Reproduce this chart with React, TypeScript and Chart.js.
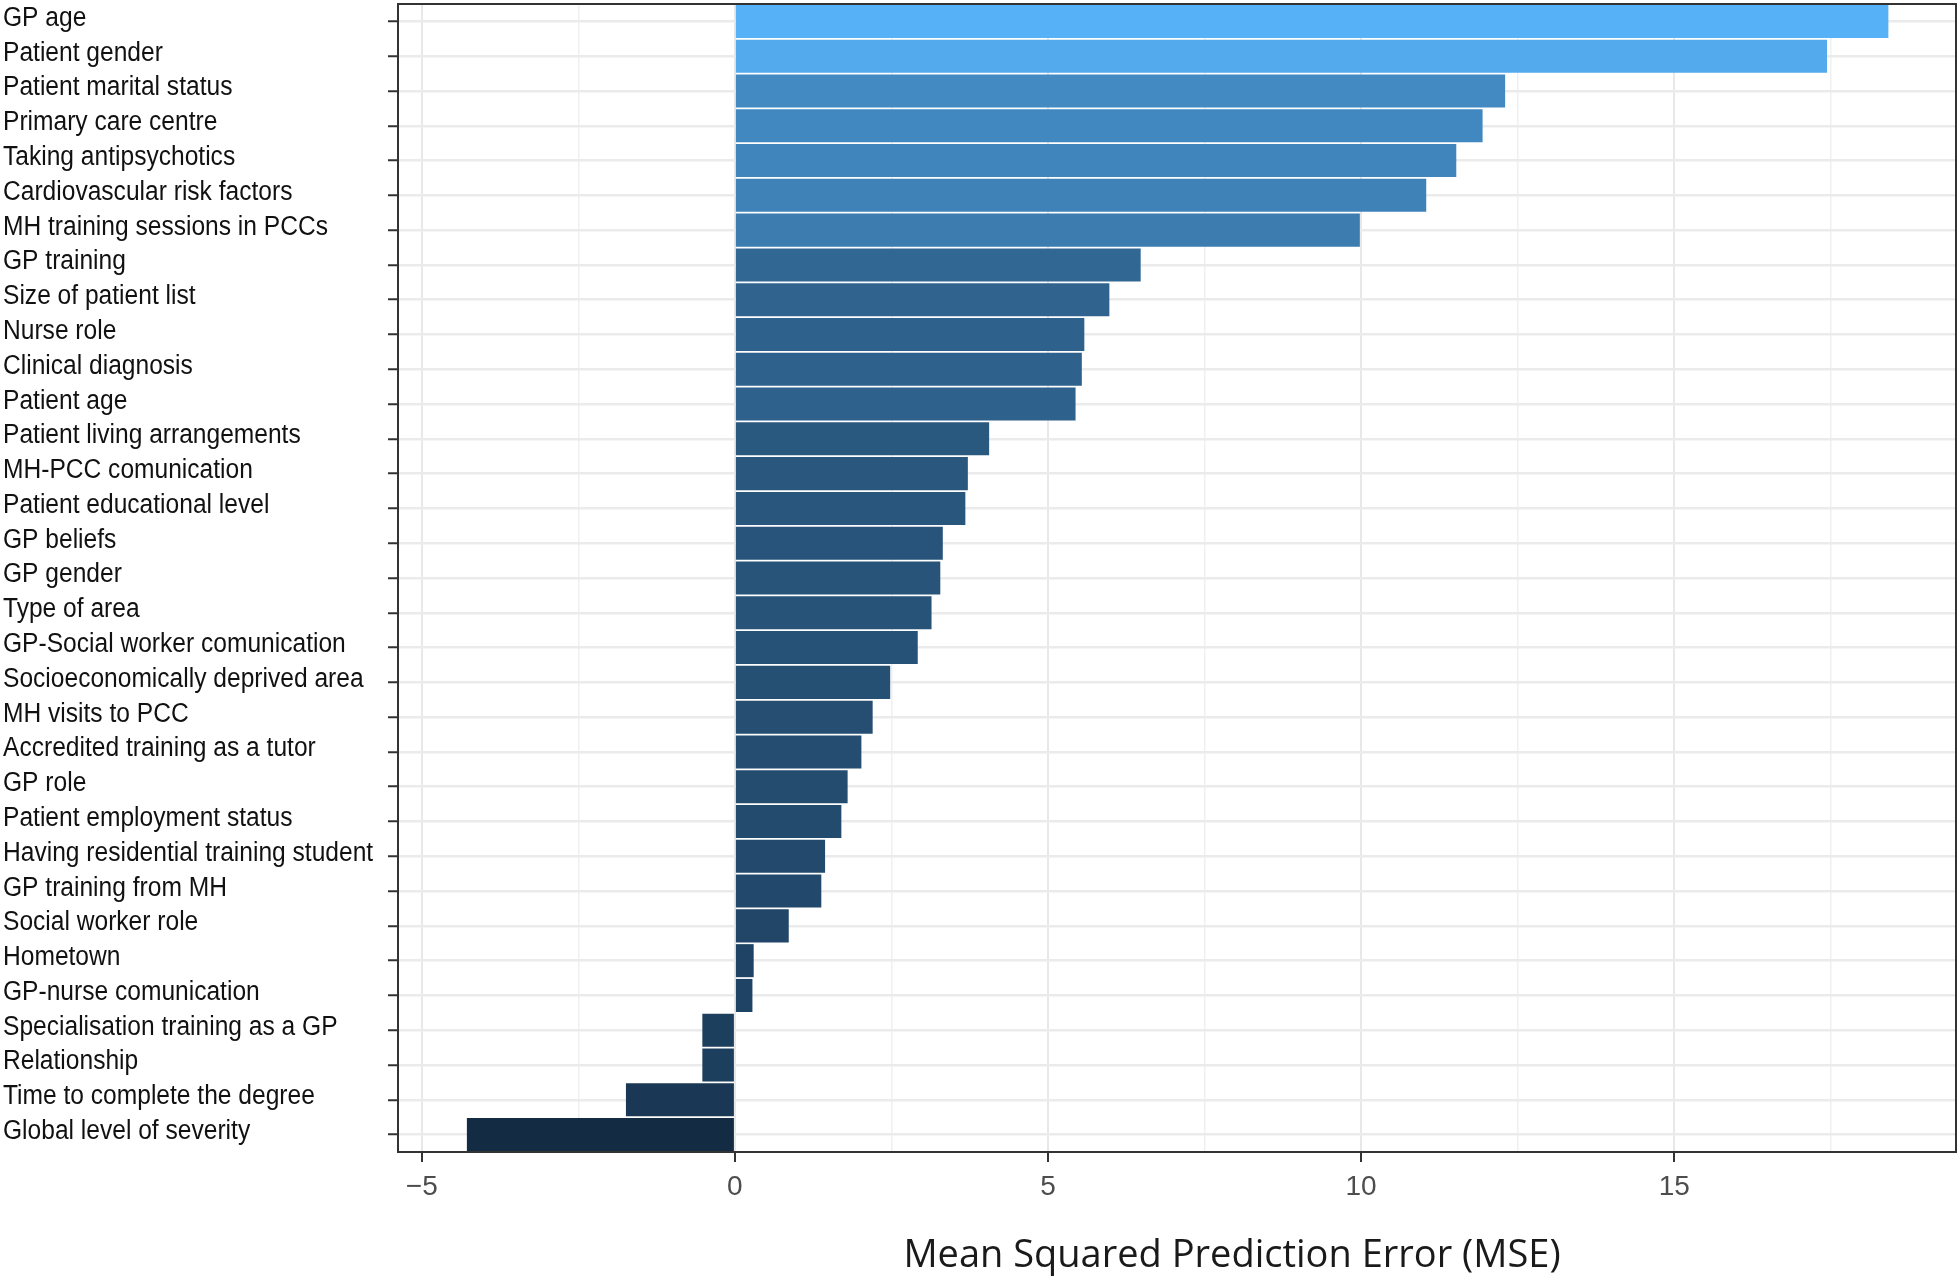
import React, { useEffect, useRef } from "react";
import { Chart, registerables } from "chart.js";

Chart.register(...registerables);

const CATEGORIES: string[] = [
  "GP age",
  "Patient gender",
  "Patient marital status",
  "Primary care centre",
  "Taking antipsychotics",
  "Cardiovascular risk factors",
  "MH training sessions in PCCs",
  "GP training",
  "Size of patient list",
  "Nurse role",
  "Clinical diagnosis",
  "Patient age",
  "Patient living arrangements",
  "MH-PCC comunication",
  "Patient educational level",
  "GP beliefs",
  "GP gender",
  "Type of area",
  "GP-Social worker comunication",
  "Socioeconomically deprived area",
  "MH visits to PCC",
  "Accredited training as a tutor",
  "GP role",
  "Patient employment status",
  "Having residential training student",
  "GP training from MH",
  "Social worker role",
  "Hometown",
  "GP-nurse comunication",
  "Specialisation training as a GP",
  "Relationship",
  "Time to complete the degree",
  "Global level of severity",
];

const MSE_VALUES: number[] = [
  18.42, 17.44, 12.3, 11.94, 11.52, 11.04, 9.98, 6.48, 5.98, 5.58, 5.54, 5.44,
  4.06, 3.72, 3.68, 3.32, 3.28, 3.14, 2.92, 2.48, 2.2, 2.02, 1.8, 1.7, 1.44,
  1.38, 0.86, 0.3, 0.28, -0.52, -0.52, -1.74, -4.28,
];

const X_TICKS: number[] = [-5, -2.5, 0, 2.5, 5, 7.5, 10, 12.5, 15, 17.5];
const X_MIN = -5.38;
const X_MAX = 19.5;
const X_TITLE = "Mean Squared Prediction Error (MSE)";

const LOW_COLOR = "#132B43";
const HIGH_COLOR = "#56B1F7";

// --- Lab colour interpolation (like ggplot's default continuous gradient) ---
function hexToRgb(h: string): number[] {
  const n = parseInt(h.slice(1), 16);
  return [(n >> 16) & 255, (n >> 8) & 255, n & 255];
}
function srgbToLin(c: number) {
  c /= 255;
  return c <= 0.04045 ? c / 12.92 : Math.pow((c + 0.055) / 1.055, 2.4);
}
function linToSrgb(c: number) {
  const v = c <= 0.0031308 ? 12.92 * c : 1.055 * Math.pow(c, 1 / 2.4) - 0.055;
  return Math.max(0, Math.min(255, Math.round(v * 255)));
}
const WX = 0.95047, WY = 1.0, WZ = 1.08883;
function rgbToLab(rgb: number[]): number[] {
  const [r, g, b] = rgb.map(srgbToLin);
  const x = (r * 0.4124 + g * 0.3576 + b * 0.1805) / WX;
  const y = (r * 0.2126 + g * 0.7152 + b * 0.0722) / WY;
  const z = (r * 0.0193 + g * 0.1192 + b * 0.9505) / WZ;
  const f = (t: number) => (t > 0.008856 ? Math.cbrt(t) : 7.787 * t + 16 / 116);
  const fx = f(x), fy = f(y), fz = f(z);
  return [116 * fy - 16, 500 * (fx - fy), 200 * (fy - fz)];
}
function labToRgb(lab: number[]): number[] {
  const [L, A, B] = lab;
  const fy = (L + 16) / 116;
  const fx = fy + A / 500;
  const fz = fy - B / 200;
  const finv = (t: number) => (t * t * t > 0.008856 ? t * t * t : (t - 16 / 116) / 7.787);
  const x = finv(fx) * WX, y = finv(fy) * WY, z = finv(fz) * WZ;
  const r = x * 3.2406 + y * -1.5372 + z * -0.4986;
  const g = x * -0.9689 + y * 1.8758 + z * 0.0415;
  const b = x * 0.0557 + y * -0.204 + z * 1.057;
  return [linToSrgb(r), linToSrgb(g), linToSrgb(b)];
}
const LAB_LOW = rgbToLab(hexToRgb(LOW_COLOR));
const LAB_HIGH = rgbToLab(hexToRgb(HIGH_COLOR));
function gradientColor(v: number, lo: number, hi: number): string {
  const t = (v - lo) / (hi - lo);
  const lab = LAB_LOW.map((c, i) => c + (LAB_HIGH[i] - c) * t);
  const [r, g, b] = labToRgb(lab);
  return `rgb(${r},${g},${b})`;
}

const LABEL_FONT = "'Liberation Sans', Arial, sans-serif";
const LABEL_CONDENSE = 0.91;

// Draw the category labels slightly condensed, like the narrow face in the original.
const condensePlugin = {
  id: "condenseLabels",
  beforeDraw(chart: any) {
    const sc = chart.scales.y;
    if (!sc || sc.__condensed) return;
    const orig = sc.drawLabels.bind(sc);
    sc._computeLabelArea = () => undefined;
    sc.drawLabels = (chartArea: any) => {
      const ctx = chart.ctx;
      ctx.save();
      ctx.translate(sc.left, 0);
      ctx.scale(LABEL_CONDENSE, 1);
      ctx.translate(-sc.left, 0);
      orig(chartArea);
      ctx.restore();
    };
    sc.__condensed = true;
  },
};

const framePlugin = {
  id: "frame",
  afterDatasetsDraw(chart: any) {
    const { ctx, chartArea: a } = chart;
    ctx.save();
    ctx.strokeStyle = "#333333";
    ctx.lineWidth = 2;
    ctx.strokeRect(a.left, a.top, a.right - a.left, a.bottom - a.top);
    ctx.restore();
  },
};

const titlePlugin = {
  id: "xTitle",
  afterDraw(chart: any) {
    const { ctx, chartArea: a } = chart;
    ctx.save();
    ctx.fillStyle = "#1a1a1a";
    ctx.font = "38px 'Open Sans', sans-serif";
    ctx.textAlign = "center";
    ctx.textBaseline = "middle";
    ctx.fillText(X_TITLE, (a.left + a.right) / 2 + 55, chart.height - 26);
    ctx.restore();
  },
};

export default function App() {
  const canvasRef = useRef<HTMLCanvasElement | null>(null);

  useEffect(() => {
    if (!canvasRef.current) return;
    const lo = Math.min(...MSE_VALUES);
    const hi = Math.max(...MSE_VALUES);
    const colors = MSE_VALUES.map((v) => gradientColor(v, lo, hi));
    const chart = new Chart(canvasRef.current, {
      type: "bar",
      data: {
        labels: CATEGORIES,
        datasets: [
          {
            data: MSE_VALUES,
            backgroundColor: colors,
            borderWidth: 0,
            barPercentage: 0.95,
            categoryPercentage: 1,
          },
        ],
      },
      options: {
        indexAxis: "y",
        animation: false,
        responsive: true,
        maintainAspectRatio: false,
        layout: { autoPadding: false, padding: { left: 3, right: 4, top: 4, bottom: 0 } },
        plugins: {
          legend: { display: false },
          tooltip: { enabled: false },
        },
        scales: {
          x: {
            type: "linear",
            min: X_MIN,
            max: X_MAX,
            afterBuildTicks: (scale: any) => {
              scale.ticks = X_TICKS.map((v) => ({ value: v }));
            },
            afterFit: (scale: any) => {
              scale.height = 130;
              scale.paddingLeft = 0;
              scale.paddingRight = 0;
            },
            border: { display: false },
            grid: {
              color: (c: any) => (c.tick && c.tick.value % 5 === 0 ? "#e8e8e8" : "#f0f0f0"),
              lineWidth: (c: any) => (c.tick && c.tick.value % 5 === 0 ? 2 : 1.5),
              tickColor: (c: any) => (c.tick && c.tick.value % 5 === 0 ? "#333333" : "rgba(0,0,0,0)"),
              tickWidth: 2,
              tickLength: 10,
            },
            ticks: {
              autoSkip: false,
              maxRotation: 0,
              padding: 8,
              color: "#4d4d4d",
              font: { family: LABEL_FONT, size: 28 },
              callback: (v: any) => {
                const n = Number(v);
                if (n % 5 !== 0) return "";
                return n < 0 ? "\u2212" + Math.abs(n) : String(n);
              },
            },
          },
          y: {
            type: "category",
            offset: true,
            afterFit: (scale: any) => {
              scale.width = 395;
              scale.paddingTop = 0;
              scale.paddingBottom = 0;
            },
            border: { display: false },
            grid: {
              offset: false,
              color: "#ebebeb",
              lineWidth: 2.5,
              tickColor: "#333333",
              tickWidth: 2,
              tickLength: 10,
            },
            ticks: {
              autoSkip: false,
              crossAlign: "far",
              labelOffset: -3,
              color: "#111111",
              font: { family: LABEL_FONT, size: 27 },
            },
          },
        },
      },
      plugins: [condensePlugin, framePlugin, titlePlugin],
    });
    return () => chart.destroy();
  }, []);

  return (
    <div
      style={{
        position: "absolute",
        left: 0,
        top: 0,
        width: 1960,
        height: 1282,
        background: "#ffffff",
      }}
    >
      <canvas ref={canvasRef} />
    </div>
  );
}
